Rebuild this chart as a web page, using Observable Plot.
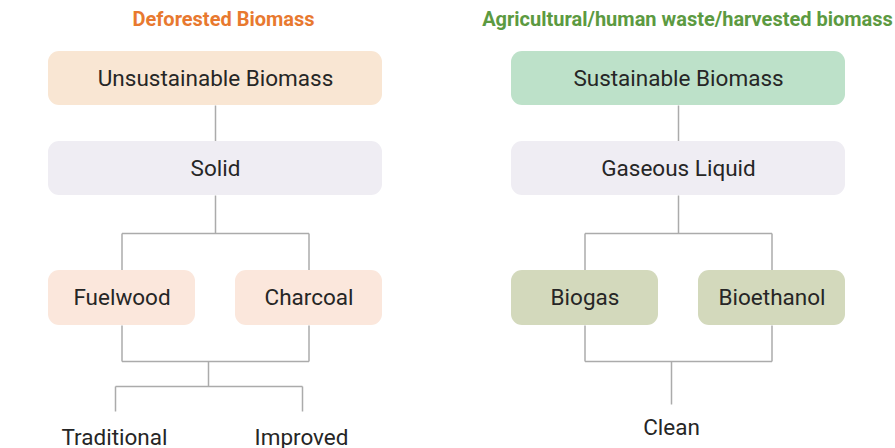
<!DOCTYPE html>
<html>
<head>
<meta charset="utf-8">
<script src="https://cdn.jsdelivr.net/npm/d3@7"></script>
<script src="https://cdn.jsdelivr.net/npm/@observablehq/plot@0.6"></script>
<style>
  html, body { margin: 0; padding: 0; background: #ffffff; }
  #chart { width: 895px; height: 448px; overflow: hidden; }
</style>
</head>
<body>
<div id="chart"></div>
<script>
// ---- content ----
const titles = ["Deforested Biomass", "Agricultural/human waste/harvested biomass"];
const topNodes = ["Unsustainable Biomass", "Sustainable Biomass"];
const formNodes = ["Solid", "Gaseous Liquid"];
const fuelNodes = [["Fuelwood", "Charcoal"], ["Biogas", "Bioethanol"]];
const outcomes = [["Traditional", "Improved"], ["Clean"]];

// ---- styles ----
const titleColors = ["#e8792f", "#5c9a41"];
const topFills = ["#f9e6d3", "#bde1c9"];
const formFill = "#efedf3";
const fuelFills = ["#fbe7dc", "#d3d9bc"];
const lineColor = "#ababab";
const textColor = "#262626";

// ---- layout ----
const panels = [{x1: 48, x2: 382}, {x1: 511, x2: 845}];
const rowTitle = 19;
const row1 = [51, 105], row2 = [141, 195], row3 = [270, 325];
const bus1 = 233, bus2 = 361, childGap = 40, bottomShift = -7;

const nodes = [], segs = [], labels = [], heads = [];
panels.forEach((p, i) => {
  const cx = (p.x1 + p.x2) / 2;
  heads.push({label: titles[i], x: cx + (i === 1 ? 9 : 8), y: rowTitle, fill: titleColors[i]});
  nodes.push({label: topNodes[i], x1: p.x1, x2: p.x2, y1: row1[0], y2: row1[1], fill: topFills[i]});
  nodes.push({label: formNodes[i], x1: p.x1, x2: p.x2, y1: row2[0], y2: row2[1], fill: formFill});
  segs.push({x1: cx, y1: row1[1], x2: cx, y2: row2[0]});
  segs.push({x1: cx, y1: row2[1], x2: cx, y2: bus1});
  const kids = fuelNodes[i];
  const w = (p.x2 - p.x1 - childGap) / kids.length;
  const kc = kids.map((k, j) => {
    const x1 = p.x1 + j * (w + childGap), x2 = x1 + w;
    nodes.push({label: k, x1, x2, y1: row3[0], y2: row3[1], fill: fuelFills[i]});
    segs.push({x1: (x1 + x2) / 2, y1: bus1, x2: (x1 + x2) / 2, y2: row3[0]});
    segs.push({x1: (x1 + x2) / 2, y1: row3[1], x2: (x1 + x2) / 2, y2: bus2});
    return (x1 + x2) / 2;
  });
  segs.push({x1: kc[0], y1: bus1, x2: kc[kc.length - 1], y2: bus1});
  segs.push({x1: kc[0], y1: bus2, x2: kc[kc.length - 1], y2: bus2});
  const sx = cx + bottomShift;
  const outs = outcomes[i];
  if (outs.length > 1) {
    const bus3 = 386;
    segs.push({x1: sx, y1: bus2, x2: sx, y2: bus3});
    const ox = kc.map(c => c + bottomShift + 0.5);
    segs.push({x1: ox[0], y1: bus3, x2: ox[ox.length - 1], y2: bus3});
    outs.forEach((o, j) => {
      segs.push({x1: ox[j], y1: bus3, x2: ox[j], y2: 411});
      labels.push({label: o, x: ox[j] - 1, y: 437});
    });
  } else {
    segs.push({x1: sx, y1: bus2, x2: sx, y2: 404});
    labels.push({label: outs[0], x: sx, y: 427});
  }
});

const chart = Plot.plot({
  width: 895,
  height: 448,
  margin: 0,
  x: {domain: [0, 895], range: [0, 895], axis: null},
  y: {domain: [0, 448], range: [0, 448], axis: null},
  color: {type: "identity"},
  style: {fontFamily: "Roboto, 'Noto Sans', sans-serif", background: "#ffffff", overflow: "visible"},
  marks: [
    Plot.link(segs, {x1: "x1", y1: "y1", x2: "x2", y2: "y2", stroke: lineColor, strokeWidth: 1.5}),
    Plot.rect(nodes, {x1: "x1", x2: "x2", y1: "y1", y2: "y2", fill: "fill", rx: 11}),
    Plot.text(nodes, {x: d => (d.x1 + d.x2) / 2, y: d => (d.y1 + d.y2) / 2, text: "label", fill: textColor, fontSize: 22.5, lineAnchor: "middle"}),
    Plot.text(labels, {x: "x", y: "y", text: "label", fill: textColor, fontSize: 22.5, lineAnchor: "middle"}),
    Plot.text(heads, {x: "x", y: "y", text: "label", fill: "fill", fontSize: 20, fontWeight: "bold", lineAnchor: "middle"})
  ]
});
document.getElementById("chart").appendChild(chart);
</script>
</body>
</html>
